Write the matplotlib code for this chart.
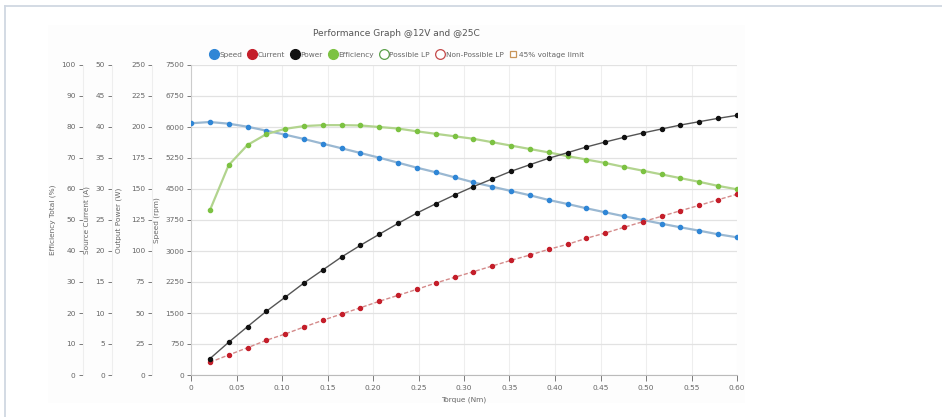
import matplotlib.pyplot as plt
from matplotlib.lines import Line2D
from matplotlib.patches import Rectangle

# torque points (Nm)
torque = [0.0, 0.0207, 0.0414, 0.0621, 0.0828, 0.1034, 0.1241, 0.1448, 0.1655, 0.1862,
          0.2069, 0.2276, 0.2483, 0.2690, 0.2897, 0.3103, 0.3310, 0.3517, 0.3724, 0.3931,
          0.4138, 0.4345, 0.4552, 0.4759, 0.4966, 0.5172, 0.5379, 0.5586, 0.5793, 0.6000]

speed = [6090, 6121, 6080, 6007, 5911, 5814, 5710, 5596, 5485, 5371,
         5257, 5136, 5015, 4904, 4783, 4662, 4556, 4452, 4348, 4234,
         4137, 4033, 3936, 3840, 3750, 3660, 3573, 3491, 3404, 3331]

# efficiency, power, current start at the second torque point
efficiency = [53.1, 67.7, 74.2, 77.7, 79.4, 80.3, 80.6, 80.6, 80.5,
              80.0, 79.5, 78.6, 77.8, 77.0, 76.2, 75.1, 74.0, 72.9, 71.8,
              70.6, 69.5, 68.4, 67.1, 65.9, 64.7, 63.5, 62.3, 61.0, 59.9]

power = [13.1, 26.4, 39.0, 51.4, 62.7, 74.2, 84.7, 95.2, 104.6,
         113.5, 122.3, 130.6, 138.1, 145.2, 151.9, 158.1, 164.3, 169.6, 174.8,
         179.3, 183.9, 187.9, 191.7, 195.2, 198.4, 201.6, 204.3, 207.0, 209.4]

current = [2.05, 3.23, 4.40, 5.60, 6.61, 7.74, 8.82, 9.84, 10.85,
           11.89, 12.85, 13.82, 14.84, 15.76, 16.66, 17.58, 18.50, 19.35, 20.27,
           21.08, 22.05, 22.90, 23.82, 24.73, 25.60, 26.50, 27.37, 28.27, 29.15]

x_ticks = [0, 0.05, 0.10, 0.15, 0.20, 0.25, 0.30, 0.35, 0.40, 0.45, 0.50, 0.55, 0.60]
x_labels = ['0'] + ['%.2f' % t for t in x_ticks[1:]]

TICK_COLOR = '#666666'
GRID_COLOR = '#e2e2e2'
FS = 5.3

fig = plt.figure(figsize=(9.42, 4.17), dpi=100)
W, H = 942.0, 417.0

# outer card border (only left and top edges show)
fig.add_artist(Line2D([5 / W, 5 / W], [0, 1 - 6 / H], transform=fig.transFigure,
                      color='#d0d8e2', linewidth=1.3))
fig.add_artist(Line2D([5 / W, 1], [1 - 6 / H, 1 - 6 / H], transform=fig.transFigure,
                      color='#d0d8e2', linewidth=1.3))
# faint chart panel
fig.patches.append(Rectangle((48 / W, (H - 403) / H), (745 - 48) / W, (403 - 25) / H,
                             transform=fig.transFigure, facecolor='#fdfdfd',
                             edgecolor='none', zorder=-5))

ax = fig.add_axes([191 / W, (H - 375) / H, 546 / W, 310 / H])
ax.set_facecolor('white')


def style_axis(a, ymax, step, label, label_x, offset_pt):
    a.set_ylim(0, ymax)
    a.set_yticks([i * step for i in range(11)])
    a.tick_params(axis='y', labelsize=FS, colors=TICK_COLOR, length=3, width=0.6, pad=2,
                  left=True, labelleft=True, right=False, labelright=False)
    for s in ['top', 'right', 'bottom']:
        a.spines[s].set_visible(False)
    a.spines['left'].set_visible(True)
    a.spines['left'].set_color('#eeeeee')
    a.spines['left'].set_position(('outward', offset_pt))
    a.yaxis.set_ticks_position('left')
    a.yaxis.set_label_position('left')
    a.set_ylabel(label, fontsize=FS, color=TICK_COLOR)
    a.yaxis.set_label_coords(label_x, 0.5)


ax_eff = ax.twinx()
ax_cur = ax.twinx()
ax_pow = ax.twinx()

style_axis(ax, 7500, 750, 'Speed (rpm)', (160 - 191) / 546, 0)
style_axis(ax_pow, 250, 25, 'Output Power (W)', (122 - 191) / 546, 28)
style_axis(ax_cur, 50, 5, 'Source Current (A)', (90 - 191) / 546, 57)
style_axis(ax_eff, 100, 10, 'Efficiency Total (%)', (56 - 191) / 546, 78)
ax.spines['left'].set_color('#cccccc')

ax.set_xlim(0, 0.6)
ax.set_xticks(x_ticks)
ax.set_xticklabels(x_labels)
ax.tick_params(axis='x', labelsize=FS, colors=TICK_COLOR, length=4, width=0.6, pad=3)
ax.spines['bottom'].set_visible(True)
ax.spines['bottom'].set_color('#bbbbbb')
ax.set_xlabel('Torque (Nm)', fontsize=FS, color=TICK_COLOR, labelpad=4)

ax.grid(True, color=GRID_COLOR, linewidth=0.9)
ax.grid(True, axis='x', color='#eeeeee', linewidth=0.8)
ax.set_axisbelow(True)

# series
ax.plot(torque, speed, color='#9ab8d2', linewidth=1.6, marker='o', markersize=3.0,
        markerfacecolor='#2f86d6', markeredgecolor='#2f86d6', zorder=3)
ax_eff.plot(torque[1:], efficiency, color='#b2d48e', linewidth=1.6, marker='o', markersize=3.0,
            markerfacecolor='#7cc242', markeredgecolor='#7cc242', zorder=3)
ax_pow.plot(torque[1:], power, color='#555555', linewidth=1.0, marker='o', markersize=2.9,
            markerfacecolor='#111111', markeredgecolor='#111111', zorder=3)
ax_cur.plot(torque[1:], current, color='#d48a8a', linewidth=1.0, linestyle=(0, (3, 1.5)),
            marker='o', markersize=2.9, markerfacecolor='#c41e2a', markeredgecolor='#c41e2a',
            zorder=3)

fig.text(396 / W, 1 - 33 / H, 'Performance Graph @12V and @25C', ha='center', va='center',
         fontsize=6.5, color='#555555')

handles = [
    Line2D([], [], linestyle='none', marker='o', markersize=7, markerfacecolor='#2f86d6', markeredgecolor='#2f86d6'),
    Line2D([], [], linestyle='none', marker='o', markersize=7, markerfacecolor='#c41e2a', markeredgecolor='#c41e2a'),
    Line2D([], [], linestyle='none', marker='o', markersize=7, markerfacecolor='#111111', markeredgecolor='#111111'),
    Line2D([], [], linestyle='none', marker='o', markersize=7, markerfacecolor='#7cc242', markeredgecolor='#7cc242'),
    Line2D([], [], linestyle='none', marker='o', markersize=7, markerfacecolor='white', markeredgecolor='#5aa04a', markeredgewidth=0.9),
    Line2D([], [], linestyle='none', marker='o', markersize=7, markerfacecolor='white', markeredgecolor='#c44a4a', markeredgewidth=0.9),
    Line2D([], [], linestyle='none', marker='s', markersize=5, markerfacecolor='white', markeredgecolor='#c8955a', markeredgewidth=0.9),
]
labels = ['Speed', 'Current', 'Power', 'Efficiency', 'Possible LP', 'Non-Possible LP', '45% voltage limit']
leg = fig.legend(handles, labels, loc='center', bbox_to_anchor=(397 / W, 1 - 55 / H), ncol=7,
                 frameon=False, fontsize=FS, handletextpad=0.3, columnspacing=0.8,
                 handlelength=1.0)
for t in leg.get_texts():
    t.set_color(TICK_COLOR)

fig.savefig('out.png', dpi=100, facecolor='white')
